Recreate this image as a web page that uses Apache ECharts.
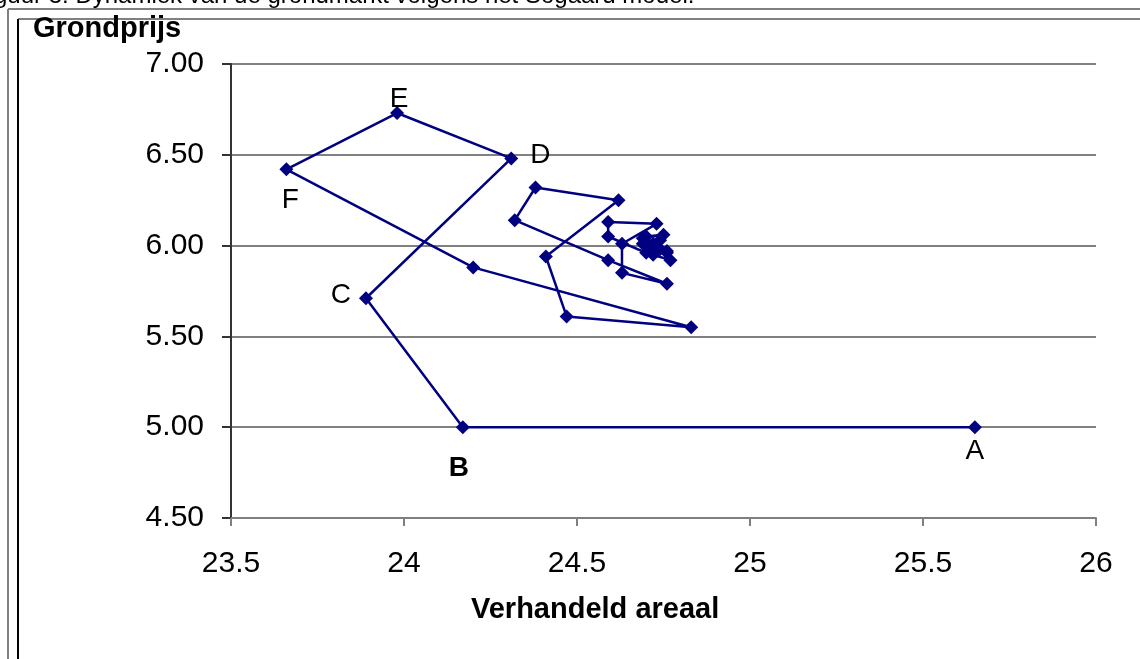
<!DOCTYPE html>
<html>
<head>
<meta charset="utf-8">
<script src="https://cdn.jsdelivr.net/npm/echarts@6/dist/echarts.min.js"></script>
<style>
  html, body { margin: 0; padding: 0; background: #fff; }
  #chart { width: 1140px; height: 659px; }
</style>
</head>
<body>
<div id="chart"></div>
<script>
// Traded area (x) and land price (y) per period of the Sogaard land-market model
const areaal = [
  25.65, 24.17, 23.89, 24.31, 23.98, 23.66, 24.20, 24.83, 24.47, 24.41,
  24.62, 24.38, 24.32, 24.59, 24.76, 24.63, 24.63, 24.73, 24.59, 24.59,
  24.70, 24.77, 24.72, 24.69, 24.75, 24.70, 24.69, 24.72, 24.76, 24.73,
  24.71, 24.74, 24.72, 24.74, 24.76
];
const grondprijs = [
  5.00, 5.00, 5.71, 6.48, 6.73, 6.42, 5.88, 5.55, 5.61, 5.94,
  6.25, 6.32, 6.14, 5.92, 5.79, 5.85, 6.01, 6.12, 6.13, 6.05,
  5.96, 5.92, 5.95, 6.04, 6.06, 6.05, 6.01, 5.97, 5.96, 5.97,
  6.00, 6.03, 6.01, 5.98, 5.97
];
// Letters marking the first six periods
const puntLabels = ['A', 'B', 'C', 'D', 'E', 'F'];
const xTicks = [23.5, 24, 24.5, 25, 25.5, 26];
const yTicks = [4.5, 5.0, 5.5, 6.0, 6.5, 7.0];

const FONT = '"Liberation Sans", Arial, sans-serif';
const NAVY = '#000080';

// Where each letter sits next to its point
const labelPlacement = {
  A: { position: 'bottom', distance: 3 },
  B: { position: 'bottom', distance: 20, offset: [-4, 0], fontWeight: 'bold' },
  C: { position: 'left', distance: 8, offset: [0, -3] },
  D: { position: 'right', distance: 12, offset: [0, -3] },
  E: { position: 'top', distance: -7, offset: [2, 0] },
  F: { position: 'bottom', distance: 10, offset: [4, 0] }
};

const points = areaal.map((x, i) => {
  const item = { value: [x, grondprijs[i]] };
  const name = puntLabels[i];
  if (name) {
    const p = labelPlacement[name];
    item.label = {
      show: true,
      formatter: name,
      position: p.position,
      distance: p.distance,
      offset: p.offset || [0, 0],
      fontWeight: p.fontWeight || 'normal',
      fontSize: 28,
      fontFamily: FONT,
      color: '#000'
    };
  }
  return item;
});

const chart = echarts.init(document.getElementById('chart'), null, { renderer: 'canvas' });

chart.setOption({
  animation: false,
  backgroundColor: '#fff',
  grid: { left: 231, right: 44, top: 64, bottom: 141, containLabel: false },
  xAxis: {
    type: 'value',
    min: xTicks[0],
    max: xTicks[xTicks.length - 1],
    interval: 0.5,
    axisLine: { show: true, onZero: false, lineStyle: { color: '#808080', width: 2 } },
    axisTick: { show: true, inside: false, length: 8, lineStyle: { color: '#808080', width: 2 } },
    axisLabel: {
      margin: 31, fontSize: 30, fontFamily: FONT, color: '#000',
      formatter: v => String(v)
    },
    splitLine: { show: false }
  },
  yAxis: {
    type: 'value',
    min: yTicks[0],
    max: yTicks[yTicks.length - 1],
    interval: 0.5,
    axisLine: { show: true, onZero: false, lineStyle: { color: '#333', width: 2 } },
    axisTick: { show: true, inside: false, length: 9, lineStyle: { color: '#333', width: 2 } },
    axisLabel: {
      margin: 27, fontSize: 30, fontFamily: FONT, color: '#000',
      formatter: v => v.toFixed(2)
    },
    splitLine: { show: true, lineStyle: { color: '#808080', width: 2 } }
  },
  series: [{
    type: 'line',
    data: points,
    symbol: 'diamond',
    symbolSize: 14,
    showAllSymbol: true,
    lineStyle: { color: NAVY, width: 2.5 },
    itemStyle: { color: NAVY },
    label: { show: false },
    z: 5
  }],
  graphic: [
    // outer and inner frames
    { type: 'line', shape: { x1: 8, y1: 9, x2: 1140, y2: 9 }, style: { stroke: '#808080', lineWidth: 2 } },
    { type: 'line', shape: { x1: 8, y1: 9, x2: 8, y2: 659 }, style: { stroke: '#808080', lineWidth: 2 } },
    { type: 'line', shape: { x1: 18, y1: 19, x2: 1140, y2: 19 }, style: { stroke: '#808080', lineWidth: 2 } },
    { type: 'line', shape: { x1: 18, y1: 19, x2: 18, y2: 659 }, style: { stroke: '#000', lineWidth: 2 } },
    // figure caption, running off the top-left edge
    {
      type: 'text', left: -26, top: -16,
      style: {
        text: 'Figuur 3: Dynamiek van de grondmarkt volgens het Sogaard model.',
        font: '24px ' + FONT, fill: '#000'
      }
    },
    {
      type: 'text', left: 33, top: 14,
      style: { text: 'Grondprijs', font: 'bold 29px ' + FONT, fill: '#000' }
    },
    {
      type: 'text', left: 471, top: 595,
      style: { text: 'Verhandeld areaal', font: 'bold 29px ' + FONT, fill: '#000' }
    }
  ]
});
</script>
</body>
</html>
